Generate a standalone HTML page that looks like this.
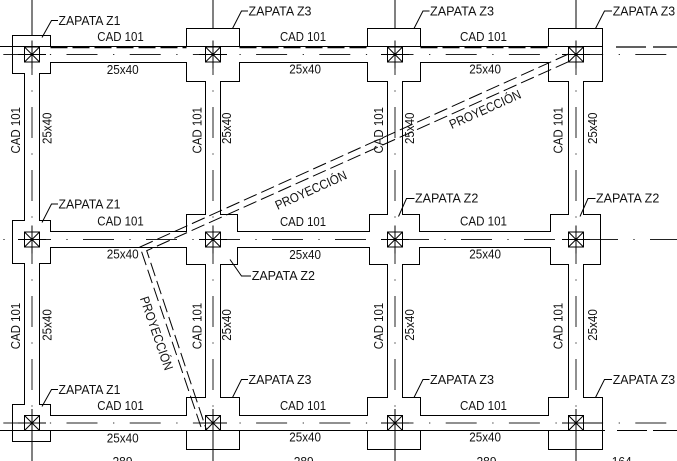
<!DOCTYPE html>
<html><head><meta charset="utf-8"><style>
html,body{margin:0;padding:0;background:#fff;}
svg{display:block;}
text{font-family:"Liberation Sans",Arial,sans-serif;font-size:13px;fill:#111;}
</style></head><body>
<svg width="677" height="461" viewBox="0 0 677 461" xmlns="http://www.w3.org/2000/svg">
<rect width="677" height="461" fill="#fff"/>

<!-- centre lines (dash-dot) -->
<g stroke="#222" stroke-width="1" fill="none">
  <line x1="0" y1="54.5" x2="677" y2="54.5" stroke-dasharray="1.2 15.4 31 15.6" stroke-dashoffset="13.3"/>
  <line x1="0" y1="239.5" x2="677" y2="239.5" stroke-dasharray="1.2 15.4 31 15.4" stroke-dashoffset="59.6"/>
  <line x1="0" y1="423" x2="677" y2="423" stroke-dasharray="1.2 15.4 31 15.6" stroke-dashoffset="13.3"/>
  <line x1="32" y1="0" x2="32" y2="461" stroke-dasharray="1.2 15.4 31 15.4" stroke-dashoffset="35.6"/>
  <line x1="213" y1="0" x2="213" y2="461" stroke-dasharray="1.2 15.4 31 15.4" stroke-dashoffset="35.6"/>
  <line x1="395" y1="0" x2="395" y2="461" stroke-dasharray="1.2 15.4 31 15.4" stroke-dashoffset="35.6"/>
  <line x1="576" y1="0" x2="576" y2="461" stroke-dasharray="1.2 15.4 31 15.4" stroke-dashoffset="35.6"/>
</g>

<!-- white structure fill to hide nothing; outlines -->
<g fill="none" stroke="#000" stroke-width="1">
  <path d="M12.5 35.5 H50.5 V46.5 H186.5 V28.5 H239.5 V46.5 H367.5 V28.5 H420.5 V46.5 H548.5 V28.5 H602.5 V81.5 H583.5 V214.5 H600.5 V264.5 H583.5 V397.5 H602.5 V449.5 H548.5 V430.5 H420.5 V449.5 H367.5 V430.5 H239.5 V449.5 H186.5 V430.5 H50.5 V441.5 H12.5 V404.5 H24.5 V263.5 H12.5 V220.5 H24.5 V73.5 H12.5 Z"/>
  <path d="M50.5 62.5 H186.5 V81.5 H205.5 V214.5 H186.5 V231.5 H50.5 V220.5 H39.5 V73.5 H50.5 Z"/>
  <path d="M239.5 62.5 H367.5 V81.5 H387.5 V214.5 H369.5 V231.5 H237.5 V214.5 H220.5 V81.5 H239.5 Z"/>
  <path d="M420.5 62.5 H548.5 V81.5 H568.5 V214.5 H550.5 V231.5 H419.5 V214.5 H402.5 V81.5 H420.5 Z"/>
  <path d="M50.5 247.5 H186.5 V264.5 H205.5 V397.5 H186.5 V415.5 H50.5 V404.5 H39.5 V263.5 H50.5 Z"/>
  <path d="M237.5 247.5 H369.5 V264.5 H387.5 V397.5 H367.5 V415.5 H239.5 V397.5 H220.5 V264.5 H237.5 Z"/>
  <path d="M419.5 247.5 H550.5 V264.5 H568.5 V397.5 H548.5 V415.5 H420.5 V397.5 H402.5 V264.5 H419.5 Z"/>

  <!-- full-width edge lines -->
  <line x1="0" y1="46.5" x2="602.5" y2="46.5"/>
  <path d="M50.5 47.5H186.5 M239.5 47.5H367.5 M420.5 47.5H548.5" stroke-width="1.4" stroke-dasharray="17 5"/>
  <path d="M616 47H646 M653 47H677" stroke-width="1.3"/>
  <line x1="0" y1="430.5" x2="590" y2="430.5"/>
  <path d="M590 430.5H605 M617 430.5H647 M653 430.5H677"/>

  <!-- grid lines top/bottom -->
  <path d="M32 0V35.5 M213 0V28.5 M395 0V28.5 M576 0V28.5"/>
  <path d="M32 430V461 M213 430V461 M395 430V461 M576 430V461"/>

  <!-- crosshairs -->
  <path d="M18 54.5H46 M32 40.5V68.5 M199 54.5H227 M213 40.5V68.5 M381 54.5H409 M395 40.5V68.5 M562 54.5H590 M576 40.5V68.5"/>
  <path d="M18 239.5H46 M32 225.5V253.5 M199 239.5H227 M213 225.5V253.5 M381 239.5H409 M395 225.5V253.5 M562 239.5H590 M576 225.5V253.5"/>
  <path d="M18 423H46 M32 409V437 M199 423H227 M213 409V437 M381 423H409 M395 409V437 M562 423H602.5 M576 409V437"/>

  <!-- columns -->
  <g>
    <rect x="24.5" y="47" width="15" height="15"/><path d="M24.5 47L39.5 62M39.5 47L24.5 62"/>
    <rect x="205.5" y="47" width="15" height="15"/><path d="M205.5 47L220.5 62M220.5 47L205.5 62"/>
    <rect x="387.5" y="47" width="15" height="15"/><path d="M387.5 47L402.5 62M402.5 47L387.5 62"/>
    <rect x="568.5" y="47" width="15" height="15"/><path d="M568.5 47L583.5 62M583.5 47L568.5 62"/>
    <rect x="24.5" y="232" width="15" height="15"/><path d="M24.5 232L39.5 247M39.5 232L24.5 247"/>
    <rect x="205.5" y="232" width="15" height="15"/><path d="M205.5 232L220.5 247M220.5 232L205.5 247"/>
    <rect x="387.5" y="232" width="15" height="15"/><path d="M387.5 232L402.5 247M402.5 232L387.5 247"/>
    <rect x="568.5" y="232" width="15" height="15"/><path d="M568.5 232L583.5 247M583.5 232L568.5 247"/>
    <rect x="24.5" y="415.5" width="15" height="15"/><path d="M24.5 415.5L39.5 430.5M39.5 415.5L24.5 430.5"/>
    <rect x="205.5" y="415.5" width="15" height="15"/><path d="M205.5 415.5L220.5 430.5M220.5 415.5L205.5 430.5"/>
    <rect x="387.5" y="415.5" width="15" height="15"/><path d="M387.5 415.5L402.5 430.5M402.5 415.5L387.5 430.5"/>
    <rect x="568.5" y="415.5" width="15" height="15"/><path d="M568.5 415.5L583.5 430.5M583.5 415.5L568.5 430.5"/>
  </g>

  <!-- leaders -->
  <path d="M42 37.5 L51.5 20.5 H58 M42 222.5 L51.5 204 H58 M42 406.5 L51.5 389.5 H58"/>
  <path d="M232.5 28.5 L241.5 11 H248 M414 28.5 L423 11 H429.5 M595.5 28.5 L604.5 11 H612"/>
  <path d="M232.5 397.5 L241.5 379.5 H248 M414 397.5 L423 379.5 H429.5 M595.5 397.5 L604.5 379.5 H612"/>
  <path d="M230 259.5 L241.5 276 H251 M398.5 216.5 L406.5 198.5 H414.5 M580 216.5 L588 198.5 H595.5"/>

  <!-- projection lines -->
  <path d="M568.5 54 L140 247 L201 427" stroke-dasharray="14 5"/>
  <path d="M568.5 61.7 L146.7 250.7 L206.5 430" stroke-dasharray="14 5"/>
</g>

<!-- horizontal labels -->
<g lengthAdjust="spacingAndGlyphs">
  <text x="58.5" y="25" textLength="62" lengthAdjust="spacingAndGlyphs">ZAPATA Z1</text>
  <text x="248.5" y="15.7" textLength="63" lengthAdjust="spacingAndGlyphs">ZAPATA Z3</text>
  <text x="430" y="15.7" textLength="64" lengthAdjust="spacingAndGlyphs">ZAPATA Z3</text>
  <text x="612.7" y="15.7" textLength="62.5" lengthAdjust="spacingAndGlyphs">ZAPATA Z3</text>
  <text x="97.3" y="41" textLength="46.5" lengthAdjust="spacingAndGlyphs">CAD 101</text>
  <text x="280" y="41" textLength="46" lengthAdjust="spacingAndGlyphs">CAD 101</text>
  <text x="460" y="41" textLength="47" lengthAdjust="spacingAndGlyphs">CAD 101</text>
  <text x="106.7" y="74" textLength="32" lengthAdjust="spacingAndGlyphs">25x40</text>
  <text x="289.3" y="73.5" textLength="31.7" lengthAdjust="spacingAndGlyphs">25x40</text>
  <text x="469.3" y="73.5" textLength="31.7" lengthAdjust="spacingAndGlyphs">25x40</text>

  <text x="58.5" y="208.3" textLength="62" lengthAdjust="spacingAndGlyphs">ZAPATA Z1</text>
  <text x="97.3" y="225.7" textLength="46.5" lengthAdjust="spacingAndGlyphs">CAD 101</text>
  <text x="280" y="226" textLength="46" lengthAdjust="spacingAndGlyphs">CAD 101</text>
  <text x="460" y="225.7" textLength="47" lengthAdjust="spacingAndGlyphs">CAD 101</text>
  <text x="106.7" y="258.5" textLength="32" lengthAdjust="spacingAndGlyphs">25x40</text>
  <text x="289.3" y="259" textLength="31.7" lengthAdjust="spacingAndGlyphs">25x40</text>
  <text x="469.3" y="258.5" textLength="31.7" lengthAdjust="spacingAndGlyphs">25x40</text>
  <text x="251.7" y="280" textLength="63.3" lengthAdjust="spacingAndGlyphs">ZAPATA Z2</text>
  <text x="415" y="202.7" textLength="63.3" lengthAdjust="spacingAndGlyphs">ZAPATA Z2</text>
  <text x="596" y="202.7" textLength="63.3" lengthAdjust="spacingAndGlyphs">ZAPATA Z2</text>

  <text x="58.5" y="394" textLength="62" lengthAdjust="spacingAndGlyphs">ZAPATA Z1</text>
  <text x="248.5" y="384" textLength="63" lengthAdjust="spacingAndGlyphs">ZAPATA Z3</text>
  <text x="430" y="384" textLength="64" lengthAdjust="spacingAndGlyphs">ZAPATA Z3</text>
  <text x="612.7" y="384" textLength="62.5" lengthAdjust="spacingAndGlyphs">ZAPATA Z3</text>
  <text x="97.3" y="410" textLength="46.5" lengthAdjust="spacingAndGlyphs">CAD 101</text>
  <text x="280" y="410" textLength="46" lengthAdjust="spacingAndGlyphs">CAD 101</text>
  <text x="460" y="410" textLength="47" lengthAdjust="spacingAndGlyphs">CAD 101</text>
  <text x="106.7" y="442.5" textLength="32" lengthAdjust="spacingAndGlyphs">25x40</text>
  <text x="289.3" y="441.7" textLength="31.7" lengthAdjust="spacingAndGlyphs">25x40</text>
  <text x="469.3" y="441.7" textLength="31.7" lengthAdjust="spacingAndGlyphs">25x40</text>

  <text x="122.5" y="466" text-anchor="middle" textLength="20" lengthAdjust="spacingAndGlyphs">289</text>
  <text x="303.7" y="466" text-anchor="middle" textLength="20" lengthAdjust="spacingAndGlyphs">289</text>
  <text x="486.5" y="466" text-anchor="middle" textLength="20" lengthAdjust="spacingAndGlyphs">289</text>
  <text x="621.7" y="466" text-anchor="middle" textLength="20" lengthAdjust="spacingAndGlyphs">164</text>
</g>

<!-- vertical labels -->
<g text-anchor="middle">
  <text transform="translate(19.95,130.3) rotate(-90)" textLength="46.5" lengthAdjust="spacingAndGlyphs">CAD 101</text>
  <text transform="translate(201.35,130.3) rotate(-90)" textLength="46.5" lengthAdjust="spacingAndGlyphs">CAD 101</text>
  <text transform="translate(382.95,130.3) rotate(-90)" textLength="46.5" lengthAdjust="spacingAndGlyphs">CAD 101</text>
  <text transform="translate(562.65,130.3) rotate(-90)" textLength="46.5" lengthAdjust="spacingAndGlyphs">CAD 101</text>
  <text transform="translate(51.65,128.3) rotate(-90)" textLength="31.5" lengthAdjust="spacingAndGlyphs">25x40</text>
  <text transform="translate(231.15,128.3) rotate(-90)" textLength="31.5" lengthAdjust="spacingAndGlyphs">25x40</text>
  <text transform="translate(414.15,128.3) rotate(-90)" textLength="31.5" lengthAdjust="spacingAndGlyphs">25x40</text>
  <text transform="translate(596.95,128.3) rotate(-90)" textLength="31.5" lengthAdjust="spacingAndGlyphs">25x40</text>

  <text transform="translate(19.95,326) rotate(-90)" textLength="46.5" lengthAdjust="spacingAndGlyphs">CAD 101</text>
  <text transform="translate(201.35,326) rotate(-90)" textLength="46.5" lengthAdjust="spacingAndGlyphs">CAD 101</text>
  <text transform="translate(382.95,326) rotate(-90)" textLength="46.5" lengthAdjust="spacingAndGlyphs">CAD 101</text>
  <text transform="translate(562.65,326) rotate(-90)" textLength="46.5" lengthAdjust="spacingAndGlyphs">CAD 101</text>
  <text transform="translate(51.65,325) rotate(-90)" textLength="31.5" lengthAdjust="spacingAndGlyphs">25x40</text>
  <text transform="translate(231.15,325) rotate(-90)" textLength="31.5" lengthAdjust="spacingAndGlyphs">25x40</text>
  <text transform="translate(414.15,325) rotate(-90)" textLength="31.5" lengthAdjust="spacingAndGlyphs">25x40</text>
  <text transform="translate(596.95,325) rotate(-90)" textLength="31.5" lengthAdjust="spacingAndGlyphs">25x40</text>

  <!-- projection labels -->
  <text transform="translate(312.7,194.2) rotate(-24.2)" textLength="77" lengthAdjust="spacingAndGlyphs">PROYECCIÓN</text>
  <text transform="translate(486.9,113.4) rotate(-24.2)" textLength="77" lengthAdjust="spacingAndGlyphs">PROYECCIÓN</text>
  <text transform="translate(152.3,334.8) rotate(70.9)" textLength="77" lengthAdjust="spacingAndGlyphs">PROYECCIÓN</text>
</g>
</svg>
</body></html>
